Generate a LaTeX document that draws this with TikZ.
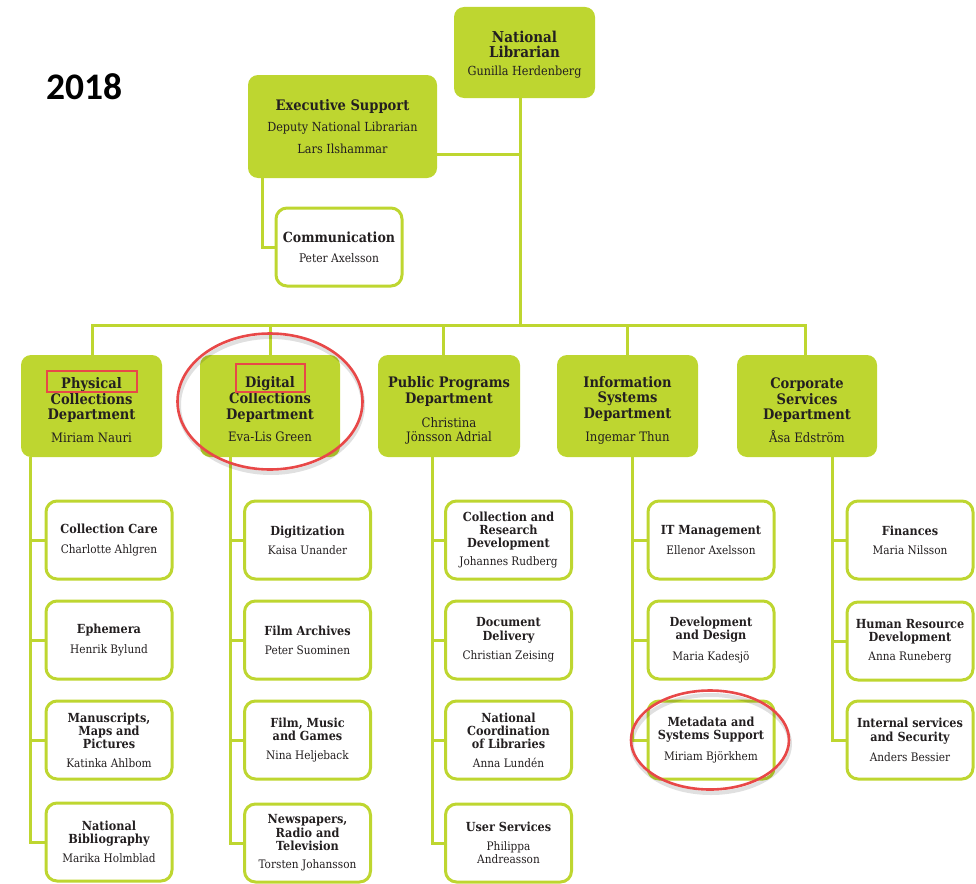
\documentclass[tikz,border=0pt]{standalone}
\usepackage{fontspec}
\setmainfont{DejaVu Serif Condensed}
\newfontfamily\yearfont{Carlito}
\definecolor{lime}{RGB}{190,214,48}
\definecolor{ink}{RGB}{35,31,32}
\definecolor{redmark}{RGB}{232,72,72}
\tikzset{
  gbox/.style={draw=none, fill=lime, rounded corners=10pt, inner sep=0pt, align=center, text=ink},
  wbox/.style={draw=lime, line width=3pt, fill=white, rounded corners=11pt, minimum width=126pt, minimum height=78pt, inner sep=0pt, align=center, text=ink, font=\fontsize{12.5}{13.3}\selectfont\bfseries},
  dbox/.style={gbox, minimum width=141pt, minimum height=102pt, font=\fontsize{14.5}{15.7}\selectfont\bfseries},
  link/.style={draw=lime, line width=3pt, line join=miter},
  redline/.style={draw=redmark, line width=2.6pt},
  shade/.style={draw=black, opacity=0.12, line width=4pt}
}
\newcommand\nm[1]{{\fontsize{11.7}{13.3}\selectfont\mdseries #1}}
\newcommand\dn[1]{{\fontsize{13}{15.7}\selectfont\mdseries #1}}
\newcommand\up[1]{\rule{0pt}{#1}}
\begin{document}
\begin{tikzpicture}[x=1pt,y=-1pt]
\useasboundingbox (0,0) rectangle (976,883);

% year
\node[anchor=base west, inner sep=0pt, font=\yearfont\fontsize{37.5}{40}\selectfont\bfseries] (year) at (46,99) {2018};

% top level
\node[gbox, minimum width=141pt, minimum height=91pt, font=\fontsize{15}{15}\selectfont\bfseries] (nl) at (524.5,52.5)
  {\up{15.5pt}National\\Librarian\\[3pt]{\fontsize{12.5}{15}\selectfont\mdseries Gunilla Herdenberg}};
\node[gbox, minimum width=189pt, minimum height=103pt, font=\fontsize{12.5}{21.5}\selectfont] (exec) at (342.5,126.5)
  {{\fontsize{14.5}{21.5}\selectfont\bfseries Executive Support}\\Deputy National Librarian\\Lars Ilshammar};
\node[wbox, font=\fontsize{14}{13.3}\selectfont\bfseries] (comm) at (339,247)
  {Communication\\[7pt]{\fontsize{11.9}{13.3}\selectfont\mdseries Peter Axelsson}};

% departments
\node[dbox] (phys) at (91.5,406) {\up{19pt}Physical\\Collections\\Department\\[7pt]\dn{Miriam Nauri}};
\node[dbox, minimum width=140pt] (dig) at (270,406) {\up{18pt}Digital\\Collections\\Department\\[7pt]\dn{Eva-Lis Green}};
\node[dbox, minimum width=142pt] (pub) at (449,406) {\up{20pt}Public Programs\\Department\\[8.3pt]\dn{Christina}\\[-1.7pt]\dn{Jönsson Adrial}};
\node[dbox] (info) at (627.5,406) {\up{19pt}Information\\Systems\\Department\\[7pt]\dn{Ingemar Thun}};
\node[dbox, minimum width=140pt] (corp) at (807,406) {\up{19pt}Corporate\\Services\\Department\\[7pt]\dn{Åsa Edström}};

% Physical collections units
\node[wbox] (p1) at (109,540) {Collection Care\\[6pt]\nm{Charlotte Ahlgren}};
\node[wbox] (p2) at (109,640) {Ephemera\\[6pt]\nm{Henrik Bylund}};
\node[wbox] (p3) at (109,740) {Manuscripts,\\Maps and\\Pictures\\[5pt]\nm{Katinka Ahlbom}};
\node[wbox] (p4) at (109,842) {National\\Bibliography\\[6pt]\nm{Marika Holmblad}};
% Digital collections units
\node[wbox] (d1) at (307.5,540) {Digitization\\[6pt]\nm{Kaisa Unander}};
\node[wbox] (d2) at (307.5,640) {Film Archives\\[6pt]\nm{Peter Suominen}};
\node[wbox] (d3) at (307.5,740) {Film, Music\\and Games\\[6pt]\nm{Nina Heljeback}};
\node[wbox] (d4) at (307.5,843) {Newspapers,\\Radio and\\Television\\[5pt]\nm{Torsten Johansson}};
% Public programs units
\node[wbox] (u1) at (508.5,540) {Collection and\\Research\\Development\\[5pt]\nm{Johannes Rudberg}};
\node[wbox] (u2) at (508.5,640) {Document\\Delivery\\[6pt]\nm{Christian Zeising}};
\node[wbox] (u3) at (508.5,740) {National\\Coordination\\of Libraries\\[5pt]\nm{Anna Lundén}};
\node[wbox] (u4) at (508.5,843) {User Services\\[5pt]\nm{Philippa}\\\nm{Andreasson}};
% Information systems units
\node[wbox] (i1) at (711,540) {IT Management\\[6pt]\nm{Ellenor Axelsson}};
\node[wbox] (i2) at (711,640) {Development\\and Design\\[8pt]\nm{Maria Kadesjö}};
\node[wbox] (i3) at (711,740) {Metadata and\\Systems Support\\[8pt]\nm{Miriam Björkhem}};
% Corporate services units
\node[wbox] (c1) at (910,540) {Finances\\[6pt]\nm{Maria Nilsson}};
\node[wbox] (c2) at (910,641) {Human Resource\\Development\\[5pt]\nm{Anna Runeberg}};
\node[wbox] (c3) at (910,740) {Internal services\\and Security\\[7pt]\nm{Anders Bessier}};

% connectors
\coordinate (hub) at (520,325);
\coordinate (ej) at (520,154);
\draw[link] (nl.south -| hub) -- (hub);
\draw[link] (exec.east |- ej) -- (ej);
\draw[link] ([xshift=-80.5pt]exec.south) |- (comm.west);
\draw[link] ([xshift=0.5pt]phys.north) |- (hub);
\draw[link] ([xshift=-2pt]corp.north) |- (hub);
\draw[link] (dig.north) -- (dig.north |- hub);
\draw[link] ([xshift=-6pt]pub.north) -- ([xshift=-6pt]pub.north |- hub);
\draw[link] (info.north) -- (info.north |- hub);

\foreach \c in {p1,p2,p3,p4} \draw[link] (\c.west) -| ([xshift=-61.5pt]phys.south);
\foreach \c in {d1,d2,d3,d4} \draw[link] (\c.west) -| ([xshift=-40pt]dig.south);
\foreach \c in {u1,u2,u3,u4} \draw[link] (\c.west) -| ([xshift=-17pt]pub.south);
\foreach \c in {i1,i2,i3} \draw[link] (\c.west) -| ([xshift=4.5pt]info.south);
\foreach \c in {c1,c2,c3} \draw[link] (\c.west) -| ([xshift=25pt]corp.south);

% red annotations
\draw[redline] (47,371) rectangle (137,392);
\draw[redline] (236,364) rectangle (305,392);
\draw[shade] (271,405) ellipse [x radius=92pt, y radius=68pt];
\draw[redline] (270,401.5) ellipse [x radius=92.5pt, y radius=68pt];
\draw[shade] (711,744) ellipse [x radius=79pt, y radius=49pt];
\draw[redline] (710,740) ellipse [x radius=79pt, y radius=49.5pt];
\end{tikzpicture}
\end{document}
